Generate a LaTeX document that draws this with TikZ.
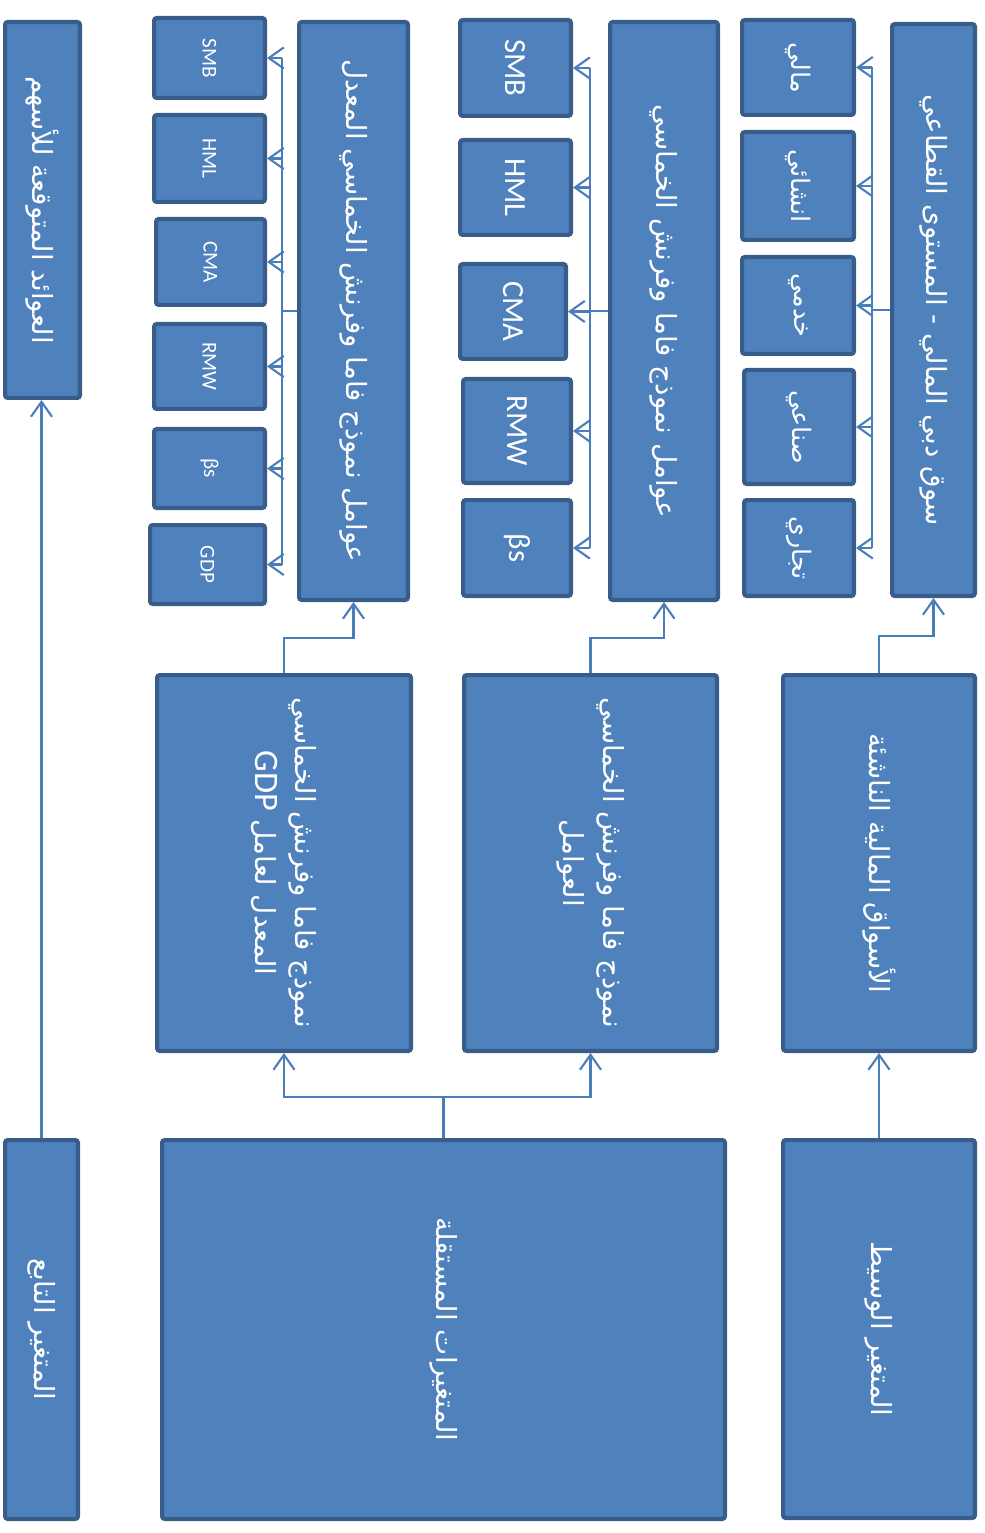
\documentclass[tikz,border=0pt]{standalone}
\usepackage{fontspec}
\setmainfont{Carlito}
\newfontfamily\arfont[Script=Arabic]{DejaVu Sans}
\TeXXeTstate=1
\usetikzlibrary{arrows.meta}
\definecolor{boxfill}{HTML}{4F81BD}
\definecolor{boxline}{HTML}{385D8A}
\definecolor{wire}{HTML}{4A7EBB}

\tikzset{
  box/.style={draw=boxline, fill=boxfill, line width=2.4pt, rounded corners=1.5pt, inner sep=0pt},
  lbl/.style={text=white, rotate=-90, align=center, inner sep=0pt},
  bigtxt/.style={lbl, font=\arfont\fontsize{15.8}{23}\selectfont},
  subar/.style={lbl, font=\arfont\fontsize{14.5}{20}\selectfont},
  sublat/.style={lbl, font=\fontsize{17.5}{20}\selectfont},
  smalllat/.style={lbl, font=\fontsize{12}{14}\selectfont},
  wirel/.style={draw=wire, line width=1.2pt},
  arr/.style={wirel, -{Straight Barb[length=8.5pt,width=12pt,line width=1.2pt]}},
}

% box from its outer corners, in pixel units (x right, y down)
\newcommand{\boxat}[5]{%
  \node[box, minimum width={(#4-#2)*0.02cm-2.4pt}, minimum height={(#5-#3)*0.02cm-2.4pt}]
    (#1) at ({(#2+#4)/2},{(#3+#5)/2}) {};}

\begin{document}
\begin{tikzpicture}[x=0.02cm, y=-0.02cm]
\useasboundingbox (0,0) rectangle (984,1533);

% ---------- right branch: mediating variable ----------
\boxat{s1}{890}{22}{977}{598}
\boxat{c1a}{740}{18}{856}{117}
\boxat{c1b}{740}{130}{856}{242}
\boxat{c1c}{740}{255}{856}{356}
\boxat{c1d}{742}{368}{856}{486}
\boxat{c1e}{742}{498}{856}{598}
\boxat{m1}{781}{673}{977}{1053}
\boxat{med}{781}{1138}{977}{1520}

\node[bigtxt] at (s1) {\beginR سوق دبي المالي - المستوى القطاعي\endR};
\node[subar] at (c1a) {\beginR مالي\endR};
\node[subar] at (c1b) {\beginR انشائي\endR};
\node[subar] at (c1c) {\beginR خدمي\endR};
\node[subar] at (c1d) {\beginR صناعي\endR};
\node[subar] at (c1e) {\beginR تجاري\endR};
\node[bigtxt] at (m1) {\beginR الأسواق المالية الناشئة\endR};
\node[bigtxt] at (med) {\beginR المتغير الوسيط\endR};

% ---------- middle branch: five-factor model ----------
\boxat{s2}{608}{20}{720}{602}
\boxat{c2a}{458}{18}{573}{118}
\boxat{c2b}{458}{138}{573}{237}
\boxat{c2c}{458}{262}{568}{361}
\boxat{c2d}{461}{377}{573}{485}
\boxat{c2e}{461}{498}{573}{598}
\boxat{m2}{462}{673}{719}{1053}

\node[bigtxt] at (s2) {\beginR عوامل نموذج فاما وفرنش الخماسي\endR};
\node[sublat] at (c2a) {SMB};
\node[sublat] at (c2b) {HML};
\node[sublat] at (c2c) {CMA};
\node[sublat] at (c2d) {RMW};
\node[sublat] at (c2e) {βs};
\node[bigtxt] at (m2) {\beginR نموذج فاما وفرنش الخماسي\endR\\\beginR العوامل\endR};

% ---------- left branch: modified five-factor model ----------
\boxat{s3}{297}{20}{410}{602}
\boxat{c3a}{152}{16}{267}{100}
\boxat{c3b}{152}{113}{267}{204}
\boxat{c3c}{154}{217}{267}{307}
\boxat{c3d}{152}{322}{267}{411}
\boxat{c3e}{152}{427}{267}{510}
\boxat{c3f}{148}{523}{267}{606}
\boxat{m3}{155}{673}{413}{1053}

\node[bigtxt] at (s3) {\beginR عوامل نموذج فاما وفرنش الخماسي المعدل\endR};
\node[smalllat] at (c3a) {SMB};
\node[smalllat] at (c3b) {HML};
\node[smalllat] at (c3c) {CMA};
\node[smalllat] at (c3d) {RMW};
\node[smalllat] at (c3e) {βs};
\node[smalllat] at (c3f) {GDP};
\node[bigtxt] at (m3) {\beginR نموذج فاما وفرنش الخماسي\endR\\\beginR المعدل لعامل {\fontspec{Carlito}\fontsize{19.5}{23}\selectfont\beginL GDP\endL}\endR};

% ---------- independent and dependent variables ----------
\boxat{ind}{160}{1138}{727}{1521}
\boxat{dep}{3}{1138}{80}{1521}
\boxat{ret}{3}{20}{82}{400}

\node[bigtxt] at (ind) {\beginR المتغيرات المستقلة\endR};
\node[bigtxt] at (dep) {\beginR المتغير التابع\endR};
\node[bigtxt] at (ret) {\beginR العوائد المتوقعة للأسهم\endR};

% ---------- connectors ----------
\draw[arr] (med.north) -- (m1.south);
\draw[arr] (m1.north) -- ++(0,-37) -| (s1.south);
\draw[arr] (m2.north) -- ++(0,-35) -| (s2.south);
\draw[arr] (m3.north) -- ++(0,-35) -| (s3.south);
\draw[wirel] (ind.north) -- ++(0,-41) coordinate (jn);
\draw[arr] (jn) -| (m2.south);
\draw[arr] (jn) -| (m3.south);
\draw[arr] (dep.north) -- (dep.north |- ret.south);

% buses feeding the factor boxes
\coordinate (b1) at (872,310);
\coordinate (b2) at (590,311);
\coordinate (b3) at (282,311);
\draw[wirel] (s1.west) -- (b1);
\draw[wirel] (s2.west) -- (b2);
\draw[wirel] (s3.west) -- (b3);
\draw[wirel] (b1 |- c1a.east) -- (b1 |- c1e.east);
\draw[wirel] (b2 |- c2a.east) -- (b2 |- c2e.east);
\draw[wirel] (b3 |- c3a.east) -- (b3 |- c3f.east);
\foreach \n in {c1a,c1b,c1c,c1d,c1e} \draw[arr] (b1 |- \n.east) -- (\n.east);
\foreach \n in {c2a,c2b,c2c,c2d,c2e} \draw[arr] (b2 |- \n.east) -- (\n.east);
\foreach \n in {c3a,c3b,c3c,c3d,c3e,c3f} \draw[arr] (b3 |- \n.east) -- (\n.east);
\end{tikzpicture}
\end{document}
